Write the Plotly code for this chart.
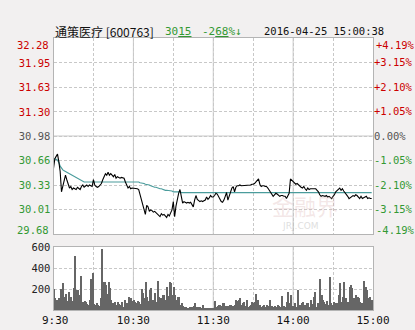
import plotly.graph_objects as go

# ---------------- data ----------------
prev_close = 30.98
price_ticks = [29.68, 30.01, 30.33, 30.66, 30.98, 31.30, 31.63, 31.95, 32.28]
pct_ticks = [-4.19, -3.15, -2.10, -1.05, 0.00, 1.05, 2.10, 3.15, 4.19]
vol_ticks = [200, 400, 600]
time_tickvals = [0, 60, 120, 180, 240]
time_ticktext = ["9:30", "10:30", "11:30", "14:00", "15:00"]

price = [
    30.55, 30.68, 30.71, 30.74, 30.64, 30.51, 30.24, 30.33, 30.42, 30.46,
    30.40, 30.33, 30.29, 30.31, 30.27, 30.29, 30.28, 30.27, 30.30, 30.29,
    30.27, 30.31, 30.33, 30.30, 30.31, 30.33, 30.31, 30.33, 30.32, 30.31,
    30.40, 30.33, 30.31, 30.30, 30.31, 30.33, 30.35, 30.40, 30.45, 30.48,
    30.46, 30.50, 30.46, 30.48, 30.46, 30.44, 30.47, 30.42, 30.44, 30.43,
    30.42, 30.43, 30.42, 30.42, 30.37, 30.33, 30.29, 30.31, 30.28, 30.29,
    30.29, 30.28, 30.29, 30.28, 30.27, 30.20, 30.13, 30.04, 29.98, 29.94,
    30.06, 30.04, 29.98, 30.00, 29.99, 29.97, 29.98, 29.96, 29.95, 29.93,
    29.91, 29.95, 29.93, 29.94, 29.92, 29.90, 29.94, 29.92, 29.96, 30.00,
    30.11, 29.91, 30.05, 30.15, 30.22, 30.27, 30.20, 30.09, 30.11, 30.10,
    30.09, 30.10, 30.09, 30.10, 30.07, 30.04, 30.13, 30.19, 30.14, 30.12,
    30.11, 30.12, 30.11, 30.12, 30.13, 30.17, 30.14, 30.16, 30.19, 30.17,
    30.17,
    30.19, 30.22, 30.21, 30.18, 30.15, 30.11, 30.10, 30.13, 30.18, 30.23,
    30.13, 30.19, 30.26, 30.29, 30.31, 30.24, 30.30, 30.32, 30.32, 30.33,
    30.32, 30.32, 30.33, 30.32, 30.33, 30.33, 30.33, 30.33, 30.34, 30.34,
    30.35, 30.37, 30.40, 30.41, 30.34, 30.31, 30.32, 30.32, 30.31, 30.31,
    30.29, 30.26, 30.23, 30.20, 30.18, 30.20, 30.22, 30.21, 30.20, 30.18,
    30.19, 30.19, 30.18, 30.18, 30.15, 30.18, 30.22, 30.41, 30.39, 30.37,
    30.36, 30.34, 30.35, 30.33, 30.31, 30.30, 30.29, 30.31, 30.28, 30.26,
    30.29, 30.27, 30.28, 30.28, 30.29, 30.28, 30.28, 30.26, 30.24, 30.20,
    30.18, 30.19, 30.18, 30.18, 30.19, 30.17, 30.18, 30.16, 30.15, 30.18,
    30.20, 30.24, 30.26, 30.28, 30.29, 30.26, 30.28, 30.25, 30.23, 30.20,
    30.18, 30.15, 30.16, 30.17, 30.19, 30.18, 30.20, 30.19, 30.17, 30.15,
    30.18, 30.15, 30.16, 30.17, 30.18, 30.15, 30.16, 30.15, 30.15,
]

avg_price = [
    30.68, 30.68, 30.67, 30.66, 30.63, 30.58, 30.55, 30.53, 30.52, 30.51,
    30.49, 30.48, 30.47, 30.46, 30.45, 30.44, 30.43, 30.42, 30.41, 30.40,
    30.39, 30.38, 30.38, 30.37, 30.37, 30.37, 30.37, 30.37, 30.37, 30.37,
    30.37, 30.37, 30.37, 30.37, 30.37, 30.37, 30.37, 30.37, 30.37, 30.37,
    30.37, 30.37, 30.37, 30.37, 30.37, 30.37, 30.37, 30.37, 30.37, 30.37,
    30.37, 30.37, 30.37, 30.37, 30.37, 30.37, 30.37, 30.37, 30.37, 30.37,
    30.37, 30.37, 30.37, 30.37, 30.37, 30.36, 30.36, 30.35, 30.35, 30.34,
    30.34, 30.33, 30.33, 30.32, 30.31, 30.31, 30.30, 30.30, 30.29, 30.29,
    30.28, 30.28, 30.27, 30.27, 30.26, 30.26, 30.26, 30.25, 30.25, 30.25,
    30.24, 30.24, 30.24, 30.24, 30.24, 30.24, 30.23, 30.23, 30.23, 30.23,
    30.23, 30.23, 30.23, 30.23, 30.23, 30.23, 30.23, 30.23, 30.23, 30.23,
    30.23, 30.23, 30.23, 30.23, 30.23, 30.23, 30.23, 30.23, 30.23, 30.23,
    30.23,
    30.23, 30.23, 30.23, 30.23, 30.23, 30.23, 30.23, 30.23, 30.23, 30.23,
    30.23, 30.23, 30.23, 30.23, 30.23, 30.23, 30.23, 30.23, 30.23, 30.23,
    30.23, 30.23, 30.23, 30.23, 30.23, 30.23, 30.23, 30.23, 30.23, 30.23,
    30.23, 30.23, 30.23, 30.23, 30.23, 30.23, 30.23, 30.23, 30.23, 30.23,
    30.23, 30.23, 30.23, 30.23, 30.23, 30.23, 30.23, 30.23, 30.23, 30.23,
    30.23, 30.23, 30.23, 30.23, 30.23, 30.23, 30.23, 30.23, 30.23, 30.23,
    30.23, 30.23, 30.23, 30.23, 30.23, 30.23, 30.23, 30.23, 30.23, 30.23,
    30.23, 30.23, 30.23, 30.23, 30.23, 30.23, 30.23, 30.23, 30.23, 30.23,
    30.23, 30.23, 30.23, 30.23, 30.23, 30.23, 30.23, 30.23, 30.23, 30.23,
    30.23, 30.23, 30.23, 30.23, 30.23, 30.23, 30.23, 30.23, 30.23, 30.23,
    30.23, 30.23, 30.23, 30.23, 30.23, 30.23, 30.23, 30.23, 30.23, 30.23,
    30.23, 30.23, 30.23, 30.23, 30.23, 30.23, 30.23, 30.23, 30.23,
]

volume = [
    200, 110, 100, 80, 110, 200, 90, 255, 120, 150,
    90, 175, 110, 127, 90, 207, 517, 190, 190, 145,
    320, 65, 80, 85, 80, 60, 50, 100, 300, 350,
    60, 50, 65, 50, 40, 110, 585, 270, 270, 240,
    150, 270, 207, 95, 70, 65, 80, 50, 80, 60,
    50, 80, 30, 100, 70, 65, 127, 60, 110, 90,
    95, 80, 70, 90, 80, 60, 200, 160, 110, 270,
    127, 90, 190, 207, 100, 80, 160, 80, 277, 120,
    110, 110, 145, 145, 100, 223, 130, 270, 255, 145,
    223, 145, 100, 127, 127, 50, 65, 40, 30, 30,
    20, 15, 30, 30, 25, 40, 65, 30, 25, 22,
    30, 20, 50, 15, 20, 15, 10, 15, 20, 15,
    15,
    85, 30, 40, 45, 50, 40, 65, 70, 40, 30,
    40, 50, 50, 40, 40, 45, 100, 90, 95, 110,
    50, 65, 80, 40, 100, 30, 40, 50, 80, 70,
    80, 155, 95, 40, 50, 30, 40, 50, 30, 50,
    40, 100, 30, 40, 30, 35, 30, 50, 40, 30,
    135, 40, 40, 30, 80, 170, 65, 145, 40, 40,
    65, 30, 190, 50, 50, 65, 75, 50, 50, 70,
    70, 30, 95, 60, 127, 175, 30, 65, 50, 297,
    145, 95, 80, 60, 85, 50, 310, 65, 50, 80,
    50, 70, 70, 145, 255, 80, 127, 265, 110, 70,
    80, 223, 240, 207, 110, 90, 145, 127, 110, 80,
    70, 65, 277, 223, 190, 110, 127, 90, 100,
]

minutes = list(range(len(price)))

# ---------------- styling helpers ----------------
W, H = 415, 330
RED = "#cc0000"
GREEN = "#339933"
GREY_TXT = "#555555"
GRID = "#c8c8c8"
BORDER = "#b4b4b4"
FONT_NUM = "DejaVu Sans Mono"
FONT_CJK = "Noto Sans CJK SC"

def px(x):
    return x / W

def py(y):
    return 1 - y / H

def color_of(v, ref):
    if abs(v - ref) < 1e-9:
        return GREY_TXT
    return RED if v > ref else GREEN

def price_str(v):
    return f"{v:.2f}"

def pct_str(v):
    return f"+{v:.2f}%" if v > 0 else f"{v:.2f}%"

# inner ticks as axis labels; the two extreme labels sit just inside the box
inner_price = price_ticks[1:-1]
inner_pct = pct_ticks[1:-1]
price_text = [f'<span style="color:{color_of(v, prev_close)}">{price_str(v)}</span>'
              for v in inner_price]
pct_text = [f'<span style="color:{color_of(v, 0)}">{pct_str(v)}</span>'
            for v in inner_pct]

pct_series = [(p / prev_close - 1) * 100 for p in price]

X0, X1 = 53.5, 373
P_TOP, P_BOT = 38, 234
V_TOP, V_BOT = 247, 310

fig = go.Figure()

fig.add_trace(go.Scatter(x=minutes, y=avg_price, mode="lines",
                         line=dict(color="#4a9c9c", width=1.2),
                         xaxis="x", yaxis="y", hoverinfo="skip"))
fig.add_trace(go.Scatter(x=minutes, y=price, mode="lines",
                         line=dict(color="#000000", width=1.1),
                         xaxis="x", yaxis="y"))
fig.add_trace(go.Scatter(x=minutes, y=pct_series, mode="lines",
                         line=dict(color="rgba(0,0,0,0)", width=0),
                         xaxis="x", yaxis="y2", hoverinfo="skip"))
fig.add_trace(go.Bar(x=minutes, y=volume, width=0.75,
                     marker=dict(color="#666666", line=dict(width=0)),
                     xaxis="x2", yaxis="y3"))

xcommon = dict(range=[0, 240],
               showgrid=True, gridcolor=GRID, griddash="3px,2px", gridwidth=1,
               zeroline=False, showline=True, linecolor=BORDER, linewidth=1,
               mirror=True, ticks="", fixedrange=True, automargin=False)

fig.update_layout(
    width=W, height=H,
    margin=dict(l=0, r=0, t=0, b=0, autoexpand=False),
    paper_bgcolor="#f2f0f0",
    plot_bgcolor="#ffffff",
    showlegend=False,
    bargap=0,
    xaxis=dict(domain=[px(X0), px(X1)], anchor="y", showticklabels=False,
               tickvals=[30, 60, 90, 120, 150, 180, 210], **xcommon),
    xaxis2=dict(domain=[px(X0), px(X1)], anchor="y3", showticklabels=True,
                tickvals=[30, 60, 90, 120, 150, 180, 210, 240],
                ticktext=["", time_ticktext[1], "", time_ticktext[2], "",
                          time_ticktext[3], "", time_ticktext[4]],
                tickfont=dict(family=FONT_NUM, size=11, color="#111111"),
                **xcommon),
    yaxis=dict(domain=[py(P_BOT), py(P_TOP)], anchor="x",
               range=[price_ticks[0], price_ticks[-1]],
               tickvals=inner_price, ticktext=price_text,
               tickfont=dict(family=FONT_NUM, size=10.5),
               showgrid=True, gridcolor=GRID, griddash="3px,2px", zeroline=False,
               showline=True, linecolor=BORDER, mirror=True, ticks="",
               fixedrange=True, automargin=False),
    yaxis2=dict(overlaying="y", side="right", anchor="x",
                range=[pct_ticks[0], pct_ticks[-1]],
                tickvals=inner_pct, ticktext=pct_text,
                tickfont=dict(family=FONT_NUM, size=10.5),
                showgrid=False, zeroline=False, showline=False, ticks="",
                fixedrange=True, automargin=False),
    yaxis3=dict(domain=[py(V_BOT), py(V_TOP)], anchor="x2",
                range=[0, 600], tickvals=vol_ticks,
                ticktext=[str(v) for v in vol_ticks],
                tickfont=dict(family=FONT_NUM, size=10.5, color="#222222"),
                showgrid=True, gridcolor=GRID, griddash="3px,2px", zeroline=False,
                showline=True, linecolor=BORDER, mirror=True, ticks="",
                fixedrange=True, automargin=False),
)

# solid session separators and previous-close line
shapes = []
for m in [60, 120, 180]:
    shapes.append(dict(type="line", xref="x", yref="y domain", x0=m, x1=m, y0=0, y1=1,
                       line=dict(color=GRID, width=1), layer="below"))
    shapes.append(dict(type="line", xref="x2", yref="y3 domain", x0=m, x1=m, y0=0, y1=1,
                       line=dict(color=GRID, width=1), layer="below"))
shapes.append(dict(type="line", xref="x domain", yref="y", x0=0, x1=1,
                   y0=prev_close, y1=prev_close, line=dict(color=GRID, width=1),
                   layer="below"))
fig.update_layout(shapes=shapes)

ann = [
    # extreme price / percent labels, nudged inside the price box like the original
    dict(text=price_str(price_ticks[-1]), x=px(50.5), y=py(45), xanchor="right",
         yanchor="middle", font=dict(family=FONT_NUM, size=10.5,
                                     color=color_of(price_ticks[-1], prev_close))),
    dict(text=price_str(price_ticks[0]), x=px(50.5), y=py(230), xanchor="right",
         yanchor="middle", font=dict(family=FONT_NUM, size=10.5,
                                     color=color_of(price_ticks[0], prev_close))),
    dict(text=pct_str(pct_ticks[-1]), x=px(373.5), y=py(45), xanchor="left",
         yanchor="middle", font=dict(family=FONT_NUM, size=10.5,
                                     color=color_of(pct_ticks[-1], 0))),
    dict(text=pct_str(pct_ticks[0]), x=px(373.5), y=py(230), xanchor="left",
         yanchor="middle", font=dict(family=FONT_NUM, size=10.5,
                                     color=color_of(pct_ticks[0], 0))),
    dict(text=time_ticktext[0], x=px(55), y=py(320), xanchor="center", yanchor="middle",
         font=dict(family=FONT_NUM, size=11, color="#111111")),
    # header
    dict(text="通策医疗 [600763]", x=px(53), y=py(31), xanchor="left", yanchor="middle",
         font=dict(family=FONT_CJK, size=12, color="#111111")),
    dict(text="30<u>15</u>", x=px(163), y=py(31), xanchor="left", yanchor="middle",
         font=dict(family=FONT_NUM, size=11, color=GREEN)),
    dict(text="-2<u>68</u>%↓", x=px(200), y=py(31), xanchor="left", yanchor="middle",
         font=dict(family=FONT_NUM, size=11, color=GREEN)),
    dict(text="2016-04-25 15:00:38", x=px(262), y=py(31), xanchor="left", yanchor="middle",
         font=dict(family=FONT_NUM, size=10.5, color="#111111")),
    # faint watermark
    dict(text="金融界", x=px(305), y=py(205), xanchor="center", yanchor="middle",
         font=dict(family=FONT_CJK, size=22, color="rgba(215,170,170,0.28)")),
    dict(text="JRJ.COM", x=px(300), y=py(226), xanchor="center", yanchor="middle",
         font=dict(family="DejaVu Sans", size=9, color="rgba(190,190,190,0.5)")),
]
for a in ann:
    a.update(xref="paper", yref="paper", showarrow=False)
fig.update_layout(annotations=ann)

fig.write_html("out.html")
